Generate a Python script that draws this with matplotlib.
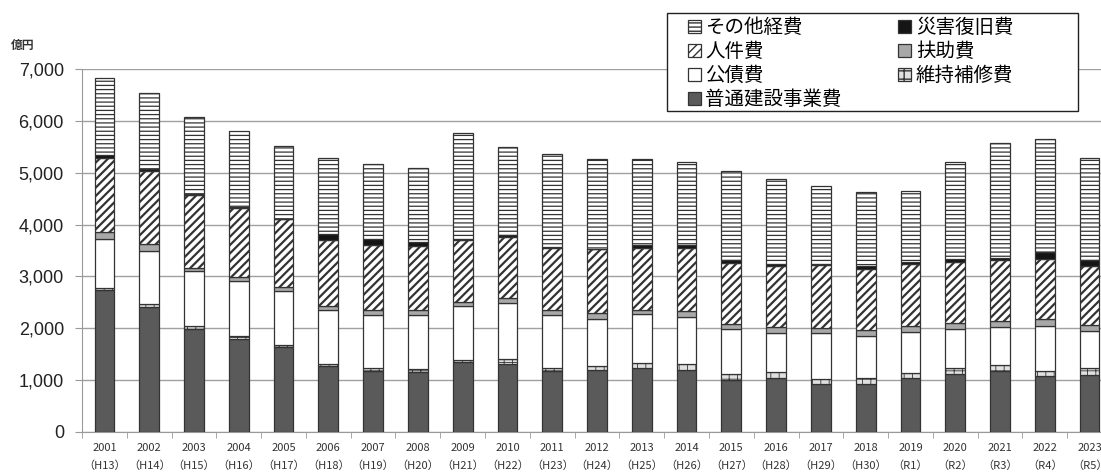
import matplotlib.pyplot as plt
import matplotlib as mpl
from matplotlib.patches import Rectangle
import numpy as np

plt.rcParams['font.family'] = ['Noto Sans CJK JP', 'DejaVu Sans']

# data (億円)
years = ['2001', '2002', '2003', '2004', '2005', '2006', '2007', '2008', '2009', '2010', '2011', '2012',
         '2013', '2014', '2015', '2016', '2017', '2018', '2019', '2020', '2021', '2022', '2023']
eras = ['H13', 'H14', 'H15', 'H16', 'H17', 'H18', 'H19', 'H20', 'H21', 'H22', 'H23', 'H24',
        'H25', 'H26', 'H27', 'H28', 'H29', 'H30', 'R1', 'R2', 'R3', 'R4', 'R5']

futsu_kensetsu = [2730, 2410, 1990, 1800, 1630, 1270, 1180, 1160, 1345, 1320, 1180, 1190,
                  1240, 1190, 1010, 1050, 935, 935, 1050, 1125, 1170, 1075, 1105]
iji_hoshu = [50, 50, 50, 60, 45, 50, 60, 60, 50, 95, 60, 75,
             90, 115, 115, 100, 95, 115, 90, 100, 115, 105, 135]
kosai = [940, 1030, 1070, 1050, 1050, 1040, 1020, 1040, 1030, 1080, 1010, 920,
         940, 915, 865, 750, 870, 805, 790, 770, 740, 865, 710]
fujo = [140, 130, 60, 80, 65, 70, 85, 85, 85, 90, 110, 110,
        90, 115, 90, 130, 115, 110, 110, 110, 110, 130, 110]
jinken = [1430, 1420, 1400, 1330, 1310, 1270, 1255, 1235, 1190, 1180, 1195, 1225,
          1195, 1205, 1185, 1175, 1205, 1185, 1195, 1180, 1180, 1170, 1145]
saigai = [50, 30, 20, 10, 10, 115, 115, 85, 30, 30, 15, 15,
          45, 65, 50, 30, 15, 50, 45, 45, 50, 130, 110]
sonota = [1480, 1470, 1480, 1480, 1405, 1460, 1445, 1430, 2030, 1695, 1790, 1720,
          1655, 1610, 1725, 1635, 1515, 1435, 1370, 1885, 2200, 2175, 1975]

W, H = 1101, 472
fig = plt.figure(figsize=(W / 100, H / 100), dpi=100)
ax = fig.add_axes([82 / W, 40 / H, 1030 / W, 363 / H])

x = np.arange(len(years))
w = 0.44
edge = '#333333'

# series from bottom to top: (values, label, face, hatch, hatch linewidth)
series = [
    (futsu_kensetsu, '普通建設事業費', '#5a5a5a', None, 1.0),
    (iji_hoshu, '維持補修費', '#e0e0e0', '++', 0.6),
    (kosai, '公債費', 'white', None, 1.0),
    (fujo, '扶助費', '#a8a8a8', None, 1.0),
    (jinken, '人件費', 'white', '////', 1.6),
    (saigai, '災害復旧費', '#151515', None, 1.0),
    (sonota, 'その他経費', 'white', '----', 0.9),
]

bottom = np.zeros(len(years))
handles = {}
for vals, label, face, hatch, hlw in series:
    with mpl.rc_context({'hatch.linewidth': hlw, 'hatch.color': edge}):
        b = ax.bar(x, vals, w, bottom=bottom, color=face, edgecolor=edge,
                   linewidth=0.9, hatch=hatch, label=label, zorder=3)
    handles[label] = b
    bottom += np.array(vals)

ax.set_xlim(-0.5, len(years) - 0.5)
ax.set_ylim(0, 7000)
ax.set_yticks(range(0, 7001, 1000))
ax.set_yticklabels([f'{v:,}' for v in range(0, 7001, 1000)], fontsize=13, color='#222222',
                   family=['Liberation Sans', 'DejaVu Sans'])
ax.set_xticks(x)
ax.set_xticklabels([f'{y}\n（{e}）' for y, e in zip(years, eras)], fontsize=8,
                   color='#333333', linespacing=1.9)
ax.set_xticks(np.arange(-0.5, len(years), 1), minor=True)
ax.tick_params(axis='x', which='major', length=0, pad=8)
ax.tick_params(axis='x', which='minor', length=4, color='#999999')
ax.tick_params(axis='y', length=5, color='#999999', pad=8)

ax.grid(axis='y', color='#a0a0a0', linewidth=1.0, zorder=0)
for s in ['top', 'right']:
    ax.spines[s].set_visible(False)
for s in ['left', 'bottom']:
    ax.spines[s].set_color('#999999')

fig.text(23 / W, 1 - 45 / H, '億円', fontsize=8.5, ha='center', va='center',
         weight='bold', color='#333333')

# legend box drawn by hand, the entries sit inside it
fig.patches.append(Rectangle((667 / W, 1 - 111 / H), 411 / W, 98 / H, transform=fig.transFigure,
                             facecolor='white', edgecolor='#222222', linewidth=1.0, zorder=5))
order = ['その他経費', '人件費', '公債費', '普通建設事業費', '災害復旧費', '扶助費', '維持補修費']
leg = fig.legend([handles[k] for k in order], order, loc='upper left',
                 bbox_to_anchor=(688 / W, 1 - 17 / H), ncol=2, fontsize=14,
                 frameon=False, handlelength=0.65, handleheight=0.65, handletextpad=0.25,
                 labelspacing=0.16, columnspacing=2.9, borderpad=0, borderaxespad=0)
leg.set_zorder(6)

fig.savefig('out.png', dpi=100)
